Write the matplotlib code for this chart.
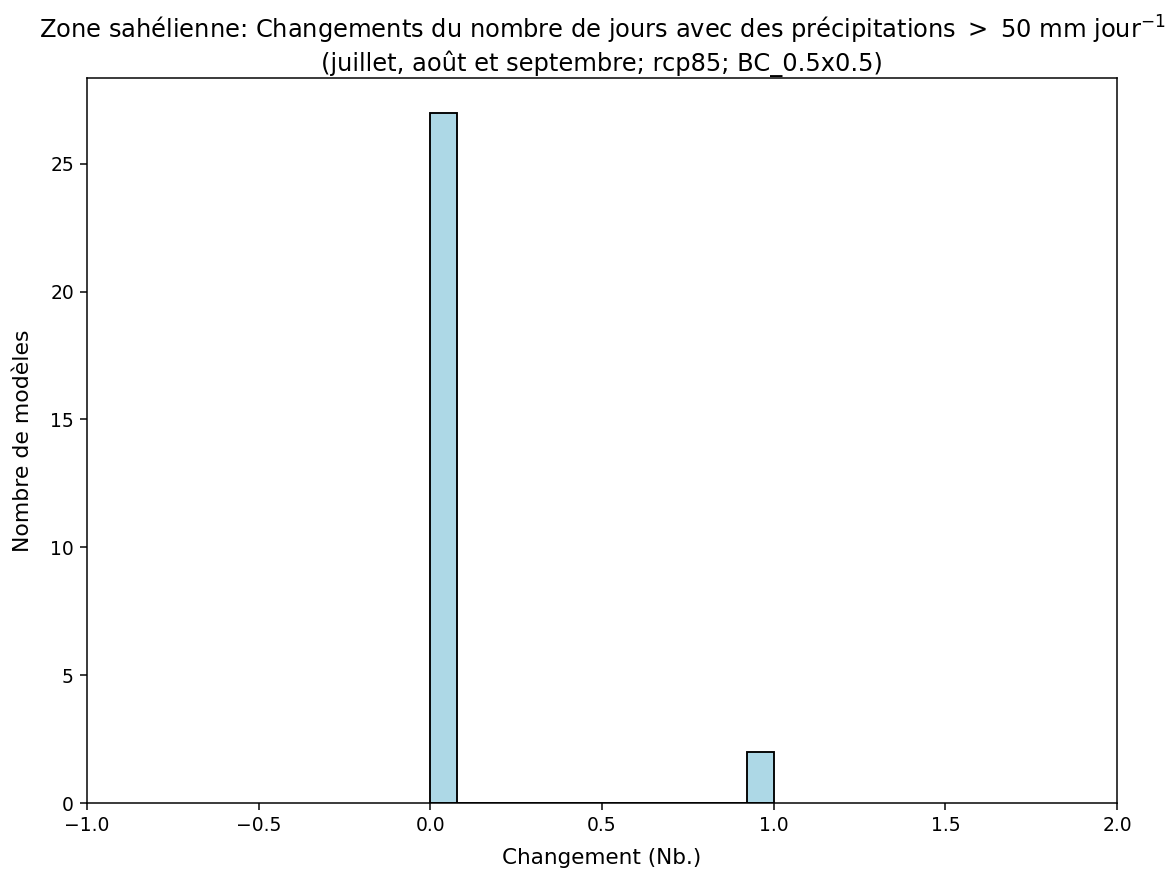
import numpy as np
import matplotlib
matplotlib.use("Agg")
import matplotlib.pyplot as plt

# histogramme: 13 classes entre 0 et 1
bin_edges = np.linspace(0.0, 1.0, 14)
counts = [27, 0, 0, 0, 0, 0, 0, 0, 0, 0, 0, 0, 2]

S = 1.35  # facteur d'échelle de la figure d'origine
plt.rcParams["axes.linewidth"] = 0.8 * S
plt.rcParams["xtick.major.width"] = 0.8 * S
plt.rcParams["ytick.major.width"] = 0.8 * S
plt.rcParams["xtick.major.size"] = 3.5 * S
plt.rcParams["ytick.major.size"] = 3.5 * S
plt.rcParams["xtick.major.pad"] = 3.5 * S
plt.rcParams["ytick.major.pad"] = 3.5 * S

fig = plt.figure(figsize=(11.66, 8.71), dpi=100)
ax = fig.add_axes([87 / 1166, 1 - 803 / 871, (1117 - 87) / 1166, (803 - 78) / 871])

centers = 0.5 * (bin_edges[:-1] + bin_edges[1:])
ax.hist(centers, bins=bin_edges, weights=counts, color="lightblue",
        edgecolor="black", linewidth=1.0 * S)

ax.set_xlim(-1, 2)
ax.set_xlabel("Changement (Nb.)", fontsize=15.5, labelpad=9.5)
ax.set_ylabel("Nombre de modèles", fontsize=15.8, labelpad=12)
ax.tick_params(labelsize=10 * S)
ax.set_title("Zone sahélienne: Changements du nombre de jours avec des précipitations $>$ 50 mm jour$^{-1}$\n"
             "(juillet, août et septembre; rcp85; BC_0.5x0.5)", fontsize=17.4, pad=5)

fig.savefig("out.png", dpi=100)
